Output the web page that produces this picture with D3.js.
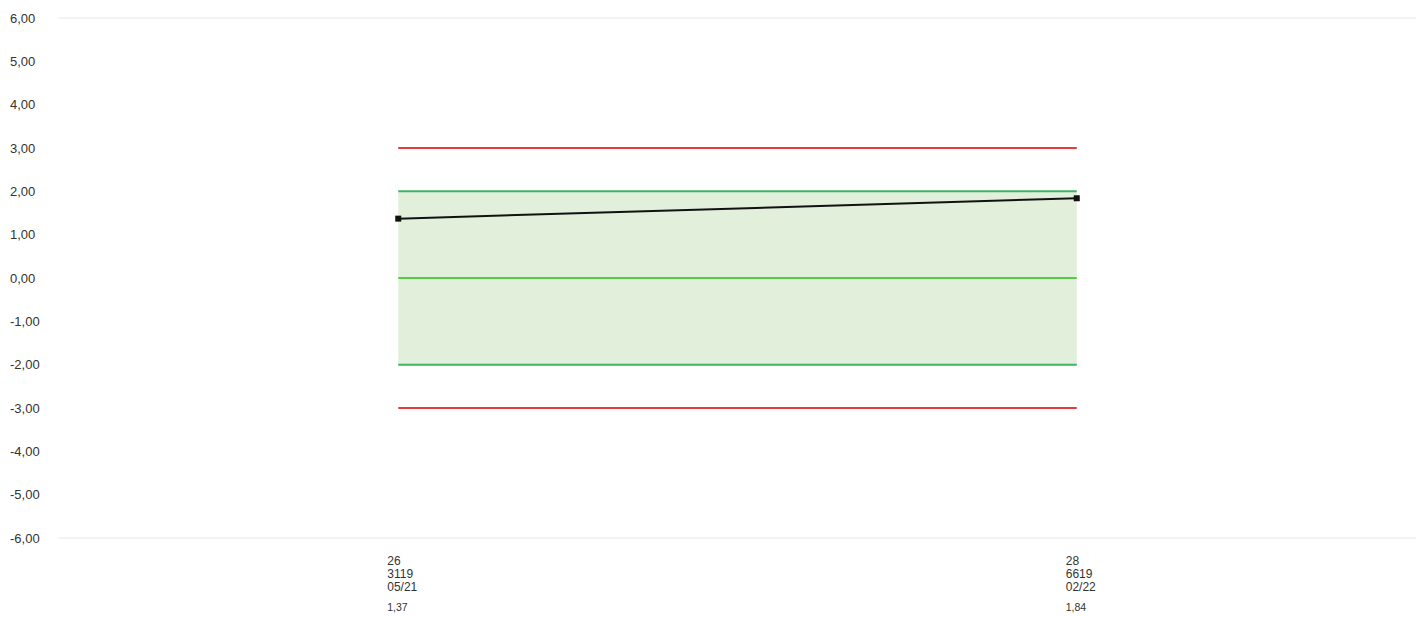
<!DOCTYPE html>
<html>
<head>
<meta charset="utf-8">
<script src="https://cdn.jsdelivr.net/npm/d3@7"></script>
<style>
  body { margin: 0; background: #fff; overflow: hidden; }
  svg { display: block; font-family: Arial, "Liberation Sans", sans-serif; }
</style>
</head>
<body>
<svg></svg>
<script>
let labels = [
  ["26", "3119", "05/21"],
  ["28", "6619", "02/22"],
];
let values = [1.37, 1.84];
let yTicks = [6, 5, 4, 3, 2, 1, 0, -1, -2, -3, -4, -5, -6];
let redLimits = [3, -3];
let greenLimits = [2, -2];
let centerLine = 0;

let width = 1423;
let height = 617;
let plotLeft = 59;
let plotRight = 1416;
let plotTop = 18;
let plotBottom = 538;

let svg = d3.select("svg").attr("width", width).attr("height", height);

// comma decimals, plain hyphen for minus
let fmt = (v) => d3.format(".2f")(v).replace(".", ",").replace("\u2212", "-");

let xScale = d3
  .scalePoint()
  .domain(d3.range(values.length))
  .range([plotLeft, plotRight])
  .padding(0.5);

let yScale = d3.scaleLinear().domain([-6, 6]).range([plotBottom, plotTop]);

// grid lines top and bottom
svg
  .selectAll(".grid")
  .data([6, -6])
  .enter()
  .append("line")
  .attr("x1", plotLeft)
  .attr("x2", plotRight)
  .attr("y1", (d) => yScale(d))
  .attr("y2", (d) => yScale(d))
  .attr("stroke", "#e6e6e6")
  .attr("stroke-width", 1);

// y labels
svg
  .selectAll(".ylab")
  .data(yTicks)
  .enter()
  .append("text")
  .attr("x", 10)
  .attr("y", (d) => yScale(d) + 4.5)
  .style("font-size", "13px")
  .style("fill", "#333")
  .text((d) => fmt(d));

let x0 = xScale(0);
let x1 = xScale(values.length - 1);

// green band
svg
  .append("rect")
  .attr("x", x0)
  .attr("width", x1 - x0)
  .attr("y", yScale(greenLimits[0]))
  .attr("height", yScale(greenLimits[1]) - yScale(greenLimits[0]))
  .attr("fill", "#e2efda");

function hline(v, color) {
  svg
    .append("line")
    .attr("x1", x0)
    .attr("x2", x1)
    .attr("y1", yScale(v))
    .attr("y2", yScale(v))
    .attr("stroke", color)
    .attr("stroke-width", 2);
}

redLimits.forEach((v) => hline(v, "#e8393b"));
greenLimits.forEach((v) => hline(v, "#3cb464"));
hline(centerLine, "#55cc44");

// data line
let line = d3
  .line()
  .x((d, i) => xScale(i))
  .y((d) => yScale(d));

svg
  .append("path")
  .datum(values)
  .attr("d", line)
  .attr("fill", "none")
  .attr("stroke", "#111")
  .attr("stroke-width", 2);

svg
  .selectAll(".pt")
  .data(values)
  .enter()
  .append("rect")
  .attr("x", (d, i) => xScale(i) - 3)
  .attr("y", (d) => yScale(d) - 3)
  .attr("width", 6)
  .attr("height", 6)
  .attr("fill", "#111");

// x labels, one text per line
labels.forEach((lab, i) => {
  lab.forEach((s, j) => {
    svg
      .append("text")
      .attr("x", xScale(i) - 11)
      .attr("y", 565 + j * 13)
      .style("font-size", "12px")
      .style("fill", "#333")
      .text(s);
  });
  svg
    .append("text")
    .attr("x", xScale(i) - 11)
    .attr("y", 611)
    .style("font-size", "10.5px")
    .style("fill", "#333")
    .text(fmt(values[i]));
});
</script>
</body>
</html>
